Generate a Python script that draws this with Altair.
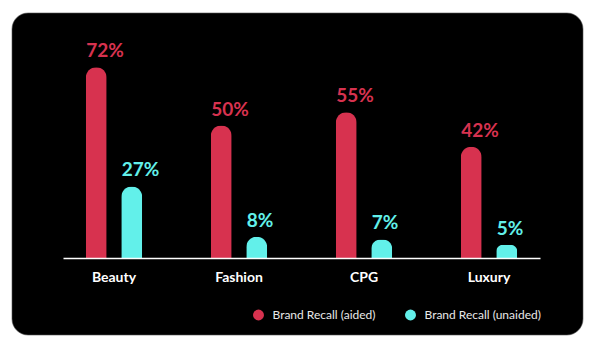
import altair as alt
import pandas as pd

categories = ["Beauty", "Fashion", "CPG", "Luxury"]
series_names = ["Brand Recall (aided)", "Brand Recall (unaided)"]
aided = [72, 50, 55, 42]
unaided = [27, 8, 7, 5]
colors = ["#d7324f", "#62f0ea"]

rows = []
for c, a, u in zip(categories, aided, unaided):
    rows.append({"category": c, "series": series_names[0], "value": a})
    rows.append({"category": c, "series": series_names[1], "value": u})
df = pd.DataFrame(rows)

FONT = "Lato"

xenc = alt.X(
    "category:N",
    sort=categories,
    scale=alt.Scale(paddingInner=0.184, paddingOuter=0),
    axis=alt.Axis(
        title=None, labelAngle=0, ticks=False, domainColor="#ffffff", domainWidth=1.5,
        labelColor="#ffffff", labelFont=FONT, labelFontSize=14, labelFontWeight="bold",
        labelPadding=12, zindex=1,
    ),
)
xoff = alt.XOffset(
    "series:N", sort=series_names,
    scale=alt.Scale(paddingInner=0.3, paddingOuter=0.5866),
)
yenc = alt.Y("value:Q", scale=alt.Scale(domain=[0, 80]), axis=None)
color = alt.Color(
    "series:N",
    sort=series_names,
    scale=alt.Scale(domain=series_names, range=colors),
    legend=alt.Legend(
        title=None, orient="none", legendX=189.5, legendY=263, direction="horizontal",
        symbolType="circle", symbolSize=120, symbolStrokeWidth=0,
        labelColor="#e8e8e8", labelFont=FONT, labelFontSize=12, labelOffset=8,
        columnPadding=28,
    ),
)

card = alt.Chart(pd.DataFrame({"k": [0]})).mark_rect(
    color="#000000", cornerRadius=16, stroke="#555555", strokeWidth=0.6
).encode(
    x=alt.value(-51), x2=alt.value(520), y=alt.value(-33), y2=alt.value(289)
)

bars = alt.Chart(df).mark_bar(
    size=21, cornerRadiusTopLeft=10.5, cornerRadiusTopRight=10.5
).encode(x=xenc, xOffset=xoff, y=yenc, color=color)

labels = alt.Chart(df).transform_calculate(
    label="datum.value + '%'"
).mark_text(
    align="left", baseline="alphabetic", dx=-10, dy=-10,
    font=FONT, fontSize=19, fontWeight="bold",
).encode(
    x=xenc, xOffset=xoff, y=yenc, text="label:N",
    color=alt.Color("series:N", sort=series_names,
                    scale=alt.Scale(domain=series_names, range=colors), legend=None),
)

chart = alt.layer(card, bars, labels).properties(
    width=477, height=212,
    autosize=alt.AutoSizeParams(type="none"),
    padding={"left": 63, "top": 46, "right": 60, "bottom": 96},
    background="#ffffff",
).configure_view(stroke=None)

chart.save("out.html", embed_options={"renderer": "svg", "actions": False})
